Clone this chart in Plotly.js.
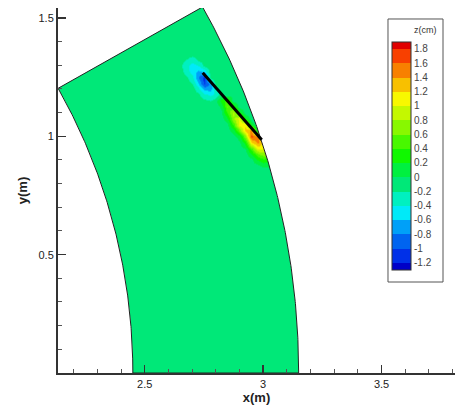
<!DOCTYPE html>
<html><head><meta charset="utf-8">
<script src="https://cdn.plot.ly/plotly-3.0.1.min.js"></script>
<style>html,body{margin:0;padding:0;background:#fff}#chart{width:455px;height:412px}</style>
</head><body><div id="chart"></div>
<script>
// ---- data ----
const xGrid = [2.65, 2.675, 2.70, 2.725, 2.75, 2.775, 2.80, 2.825, 2.85, 2.875, 2.90, 2.925, 2.95, 2.975, 3.00, 3.025, 3.05];
const yGrid = [0.85, 0.875, 0.90, 0.925, 0.95, 0.975, 1.00, 1.025, 1.05, 1.075, 1.10, 1.125, 1.15, 1.175, 1.20, 1.225, 1.25, 1.275, 1.30, 1.325, 1.35];
const zRows = [
  [-0.1,-0.1,-0.1,-0.1,-0.1,-0.1,-0.1,-0.1,-0.1,-0.1,-0.1,-0.1,-0.1,-0.1,-0.1,-0.1,-0.1],
  [-0.1,-0.1,-0.1,-0.1,-0.1,-0.1,-0.1,-0.1,-0.1,-0.1,-0.1,-0.1,-0.1,-0.05, 0.05, 0.05, 0.0],
  [-0.1,-0.1,-0.1,-0.1,-0.1,-0.1,-0.1,-0.1,-0.1,-0.1,-0.1,-0.1,-0.05, 0.2, 0.35, 0.3, 0.2],
  [-0.1,-0.1,-0.1,-0.1,-0.1,-0.1,-0.1,-0.1,-0.1,-0.1,-0.1,-0.1, 0.15, 0.5, 0.7, 0.6, 0.4],
  [-0.1,-0.1,-0.1,-0.1,-0.1,-0.1,-0.1,-0.1,-0.1,-0.1,-0.1, 0.0, 0.5, 1.05, 1.0, 0.8, 0.6],
  [-0.1,-0.1,-0.1,-0.1,-0.1,-0.1,-0.1,-0.1,-0.1,-0.1,-0.05, 0.3, 1.15, 1.45, 1.2, 1.0, 0.8],
  [-0.1,-0.1,-0.1,-0.1,-0.1,-0.1,-0.1,-0.1,-0.1,-0.1, 0.1, 0.7, 1.65, 1.5, 1.1, 0.9, 0.7],
  [-0.1,-0.1,-0.1,-0.1,-0.1,-0.1,-0.1,-0.1,-0.1, 0.1, 0.6, 1.25, 1.45, 0.1,-0.1,-0.1,-0.1],
  [-0.1,-0.1,-0.1,-0.1,-0.1,-0.1,-0.1,-0.1,-0.05, 0.45, 1.1, 1.15, 0.1,-0.1,-0.1,-0.1,-0.1],
  [-0.1,-0.1,-0.1,-0.1,-0.1,-0.1,-0.1,-0.1, 0.15, 0.75, 1.05, 0.2,-0.1,-0.1,-0.1,-0.1,-0.1],
  [-0.1,-0.1,-0.1,-0.1,-0.1,-0.1,-0.1,-0.05, 0.45, 0.85, 0.3,-0.1,-0.1,-0.1,-0.1,-0.1,-0.1],
  [-0.1,-0.1,-0.1,-0.1,-0.1,-0.1,-0.1, 0.05, 0.6, 0.4,-0.1,-0.1,-0.1,-0.1,-0.1,-0.1,-0.1],
  [-0.1,-0.1,-0.1,-0.1,-0.15,-0.2,-0.1, 0.3, 0.5,-0.1,-0.1,-0.1,-0.1,-0.1,-0.1,-0.1,-0.1],
  [-0.1,-0.1,-0.1,-0.15,-0.35,-0.45,-0.35,-0.1,-0.1,-0.1,-0.1,-0.1,-0.1,-0.1,-0.1,-0.1,-0.1],
  [-0.1,-0.1,-0.1,-0.35,-0.7,-0.7,-0.3,-0.1,-0.1,-0.1,-0.1,-0.1,-0.1,-0.1,-0.1,-0.1,-0.1],
  [-0.1,-0.1,-0.2,-0.6,-1.05,-0.75,-0.1,-0.1,-0.1,-0.1,-0.1,-0.1,-0.1,-0.1,-0.1,-0.1,-0.1],
  [-0.1,-0.15,-0.35,-0.8,-1.1,-0.1,-0.1,-0.1,-0.1,-0.1,-0.1,-0.1,-0.1,-0.1,-0.1,-0.1,-0.1],
  [-0.1,-0.3,-0.5,-0.65,-0.55,-0.1,-0.1,-0.1,-0.1,-0.1,-0.1,-0.1,-0.1,-0.1,-0.1,-0.1,-0.1],
  [-0.15,-0.35,-0.5,-0.4,-0.15,-0.1,-0.1,-0.1,-0.1,-0.1,-0.1,-0.1,-0.1,-0.1,-0.1,-0.1,-0.1],
  [-0.1,-0.2,-0.3,-0.15,-0.1,-0.1,-0.1,-0.1,-0.1,-0.1,-0.1,-0.1,-0.1,-0.1,-0.1,-0.1,-0.1],
  [-0.1,-0.1,-0.1,-0.1,-0.1,-0.1,-0.1,-0.1,-0.1,-0.1,-0.1,-0.1,-0.1,-0.1,-0.1,-0.1,-0.1]
];
const plateX = [2.745, 2.994];
const plateY = [1.268, 0.985];
const innerRadius = 2.45;
const outerRadius = 3.15;
const sectorAngleDeg = 29.4;
const levelValues = [-1.2,-1.0,-0.8,-0.6,-0.4,-0.2,0,0.2,0.4,0.6,0.8,1.0,1.2,1.4,1.6,1.8];
const levelLabels = ['-1.2','-1','-0.8','-0.6','-0.4','-0.2','0','0.2','0.4','0.6','0.8','1','1.2','1.4','1.6','1.8'];
const bandColors = ['#0000c8','#0030e8','#0064f0','#00a0f8','#00eaf8','#00f0c0','#00e878','#00f040',
                    '#10f800','#48f800','#88f800','#c4f800','#f8f800','#f8c000','#f88000','#f84000','#e00000'];
const sectorColor = '#00e878';
const zMin = -1.3, zMax = 1.9;   // half a band beyond the outer levels, as in the legend

// ---- geometry helpers ----
function arc(r, a0, a1, n) {
  const xs = [], ys = [];
  for (let k = 0; k <= n; k++) {
    const a = (a0 + (a1 - a0) * k / n) * Math.PI / 180;
    xs.push(r * Math.cos(a)); ys.push(r * Math.sin(a));
  }
  return [xs, ys];
}
const [oX, oY] = arc(outerRadius, 0, sectorAngleDeg, 160);
const [iX, iY] = arc(innerRadius, sectorAngleDeg, 0, 160);
const sectorX = oX.concat(iX), sectorY = oY.concat(iY);
const path = 'M' + sectorX.map((x, k) => x.toFixed(5) + ',' + sectorY[k].toFixed(5)).join('L') + 'Z';

const xRange = [2.134, 3.81], yRange = [0, 1.542];
const maskX = oX.concat([xRange[1] + 0.2, xRange[1] + 0.2]);
const maskY = oY.concat([oY[oY.length - 1], -0.1]);

// stepped colour scale: one flat step per band
const bounds = [zMin].concat(levelValues, [zMax]);
const colorscale = [];
bandColors.forEach((c, k) => {
  colorscale.push([(bounds[k] - zMin) / (zMax - zMin), c]);
  colorscale.push([(bounds[k + 1] - zMin) / (zMax - zMin), c]);
});
colorscale[colorscale.length - 1][0] = 1;

const traces = [
  {
    type: 'heatmap', x: xGrid, y: yGrid, z: zRows, zsmooth: 'best',
    zmin: zMin, zmax: zMax, colorscale: colorscale, hoverinfo: 'skip',
    colorbar: {
      x: 0.8413, xanchor: 'left', xpad: 0, y: 0.9077, yanchor: 'top', ypad: 0,
      len: 228, lenmode: 'pixels', thickness: 19, thicknessmode: 'pixels',
      outlinewidth: 1, outlinecolor: '#333', borderwidth: 0,
      tickmode: 'array', tickvals: levelValues, ticktext: levelLabels,
      ticks: '', tickfont: {size: 10, color: '#444'}
    }
  },
  {type: 'scatter', mode: 'lines', x: maskX, y: maskY, fill: 'toself', fillcolor: '#ffffff',
   line: {width: 0}, hoverinfo: 'skip', showlegend: false},
  {type: 'scatter', mode: 'lines', x: sectorX.concat([sectorX[0]]), y: sectorY.concat([sectorY[0]]),
   line: {color: '#222', width: 1}, hoverinfo: 'skip', showlegend: false},
  {type: 'scatter', mode: 'lines', x: plateX, y: plateY,
   line: {color: '#000', width: 3}, hoverinfo: 'skip', showlegend: false}
];

const axisCommon = {
  ticks: 'inside', ticklen: 8, tickwidth: 1.5, tickcolor: '#333',
  showline: true, linecolor: '#333', linewidth: 2, showgrid: false, zeroline: false,
  tickfont: {size: 11, color: '#222'}, automargin: false, fixedrange: true,
  minor: {tickmode: 'linear', tick0: 0, dtick: 0.1, ticks: 'inside', ticklen: 4, tickwidth: 1, tickcolor: '#555'}
};

const layout = {
  width: 455, height: 412,
  margin: {l: 58, r: 0, t: 8, b: 39},
  paper_bgcolor: '#ffffff', plot_bgcolor: '#ffffff',
  font: {family: 'Liberation Sans, Arial, sans-serif', color: '#333'},
  showlegend: false,
  xaxis: Object.assign({}, axisCommon, {range: xRange, tickmode: 'array', tickvals: [2.5, 3, 3.5], ticktext: ['2.5', '3', '3.5'],
    title: {text: 'x(m)', font: {size: 13, weight: 'bold', color: '#222'}, standoff: 3}}),
  yaxis: Object.assign({}, axisCommon, {range: yRange, tickmode: 'array', tickvals: [0.5, 1, 1.5], ticktext: ['0.5', '1', '1.5'],
    title: {text: 'y(m)', font: {size: 13, weight: 'bold', color: '#222'}, standoff: 8}}),
  shapes: [
    {type: 'path', xref: 'x', yref: 'y', path: path, fillcolor: sectorColor, line: {width: 0}, layer: 'below'},
    {type: 'rect', xref: 'paper', yref: 'paper', x0: 0.8312, x1: 0.9698, y0: 0.2493, y1: 0.9699,
     line: {color: '#555', width: 1}, fillcolor: 'rgba(0,0,0,0)', layer: 'above'}
  ],
  annotations: [
    {text: 'z(cm)', xref: 'paper', yref: 'paper', x: 0.9597, y: 0.9397, xanchor: 'right', yanchor: 'middle',
     showarrow: false, font: {size: 9, color: '#333'}}
  ]
};

Plotly.newPlot('chart', traces, layout, {staticPlot: true, displayModeBar: false});
</script></body></html>
